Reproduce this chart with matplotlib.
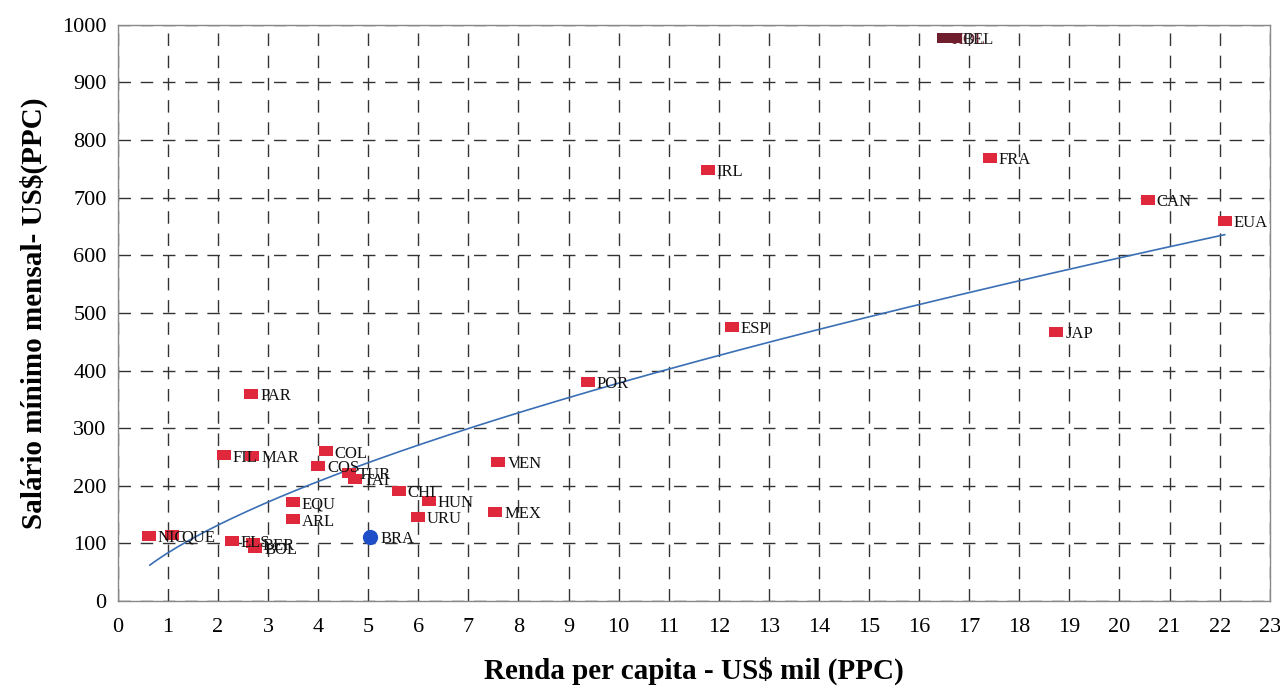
import matplotlib
matplotlib.use("Agg")
import matplotlib.pyplot as plt
import numpy as np

plt.rcParams['font.family'] = ['Liberation Serif', 'DejaVu Serif']

countries = ["NIC", "QUE", "ELS", "BER", "BOL", "FIL", "MAR", "PAR", "EQU", "ARL",
             "COL", "COS", "TUR", "TAI", "CHI", "HUN", "URU", "MEX", "VEN", "POR",
             "ESP", "IRL", "FRA", "CAN", "EUA", "JAP"]
renda = [0.62, 1.08, 2.28, 2.70, 2.75, 2.12, 2.69, 2.67, 3.49, 3.49,
         4.15, 4.00, 4.61, 4.73, 5.61, 6.21, 5.99, 7.54, 7.60, 9.38,
         12.26, 11.78, 17.41, 20.56, 22.10, 18.74]
salario = [113, 115, 104, 100, 93, 253, 252, 359, 172, 142,
           260, 234, 222, 212, 191, 174, 146, 155, 241, 380,
           476, 748, 769, 696, 660, 467]

top_countries = ["HOL", "BEL"]
top_renda = [16.5, 16.7]
top_salario = [977, 977]

brazil_label = "BRA"
brazil_renda = 5.03
brazil_salario = 111

trend_a = 83.7
trend_b = 0.655
trend_x_range = [0.64, 22.1]

rect = [(-1, -0.75), (1, -0.75), (1, 0.75), (-1, 0.75), (-1, -0.75)]

fig = plt.figure(figsize=(12.8, 6.87), dpi=100)
ax = fig.add_axes([0.092, 0.125, 0.9, 0.839])

ax.set_xlim(0, 23)
ax.set_ylim(0, 1000)
ax.set_xticks(np.arange(0, 24, 1))
ax.set_yticks(np.arange(0, 1001, 100))
ax.grid(True, color='#333333', linestyle=(0, (9, 7)), linewidth=1.0)
ax.set_axisbelow(True)
for s in ax.spines.values():
    s.set_color('#888888')
    s.set_linewidth(1.0)
ax.tick_params(axis='both', labelsize=16, length=0)
ax.tick_params(axis='x', pad=12)
ax.tick_params(axis='y', pad=8)

# trend line
xt = np.linspace(trend_x_range[0], trend_x_range[1], 200)
ax.plot(xt, trend_a * xt ** trend_b, color='#3a6fb5', linewidth=1.2, zorder=2)

ax.plot(renda, salario, linestyle='none', marker=rect, markersize=9.5,
        color='#e0283c', markeredgewidth=0, zorder=3)
for c, x, y in zip(countries, renda, salario):
    ax.annotate(c, (x, y), xytext=(6.5, -4.5), textcoords='offset points',
                fontsize=12, color='#111111', zorder=4)

ax.plot(top_renda, top_salario, linestyle='none', marker=rect, markersize=9.5,
        color='#6e1e2c', markeredgewidth=0, zorder=3)
ax.annotate(top_countries[0], (top_renda[0], top_salario[0]), xytext=(5, -4.5),
            textcoords='offset points', fontsize=12, color='#6e1e2c', zorder=4)
ax.annotate(top_countries[1], (top_renda[1], top_salario[1]), xytext=(6, -4.5),
            textcoords='offset points', fontsize=12, color='#222222', zorder=4)

ax.plot([brazil_renda], [brazil_salario], linestyle='none', marker='o', markersize=11,
        color='#1f4fc8', markeredgewidth=0, zorder=3)
ax.annotate(brazil_label, (brazil_renda, brazil_salario), xytext=(7.5, -4.5),
            textcoords='offset points', fontsize=12, color='#111111', zorder=4)

ax.set_xlabel("Renda per capita - US$ mil (PPC)", fontsize=21, fontweight='bold', labelpad=14)
ax.set_ylabel("Salário mínimo mensal- US$(PPC)", fontsize=21, fontweight='bold', labelpad=10)

fig.savefig("out.png", dpi=100)
